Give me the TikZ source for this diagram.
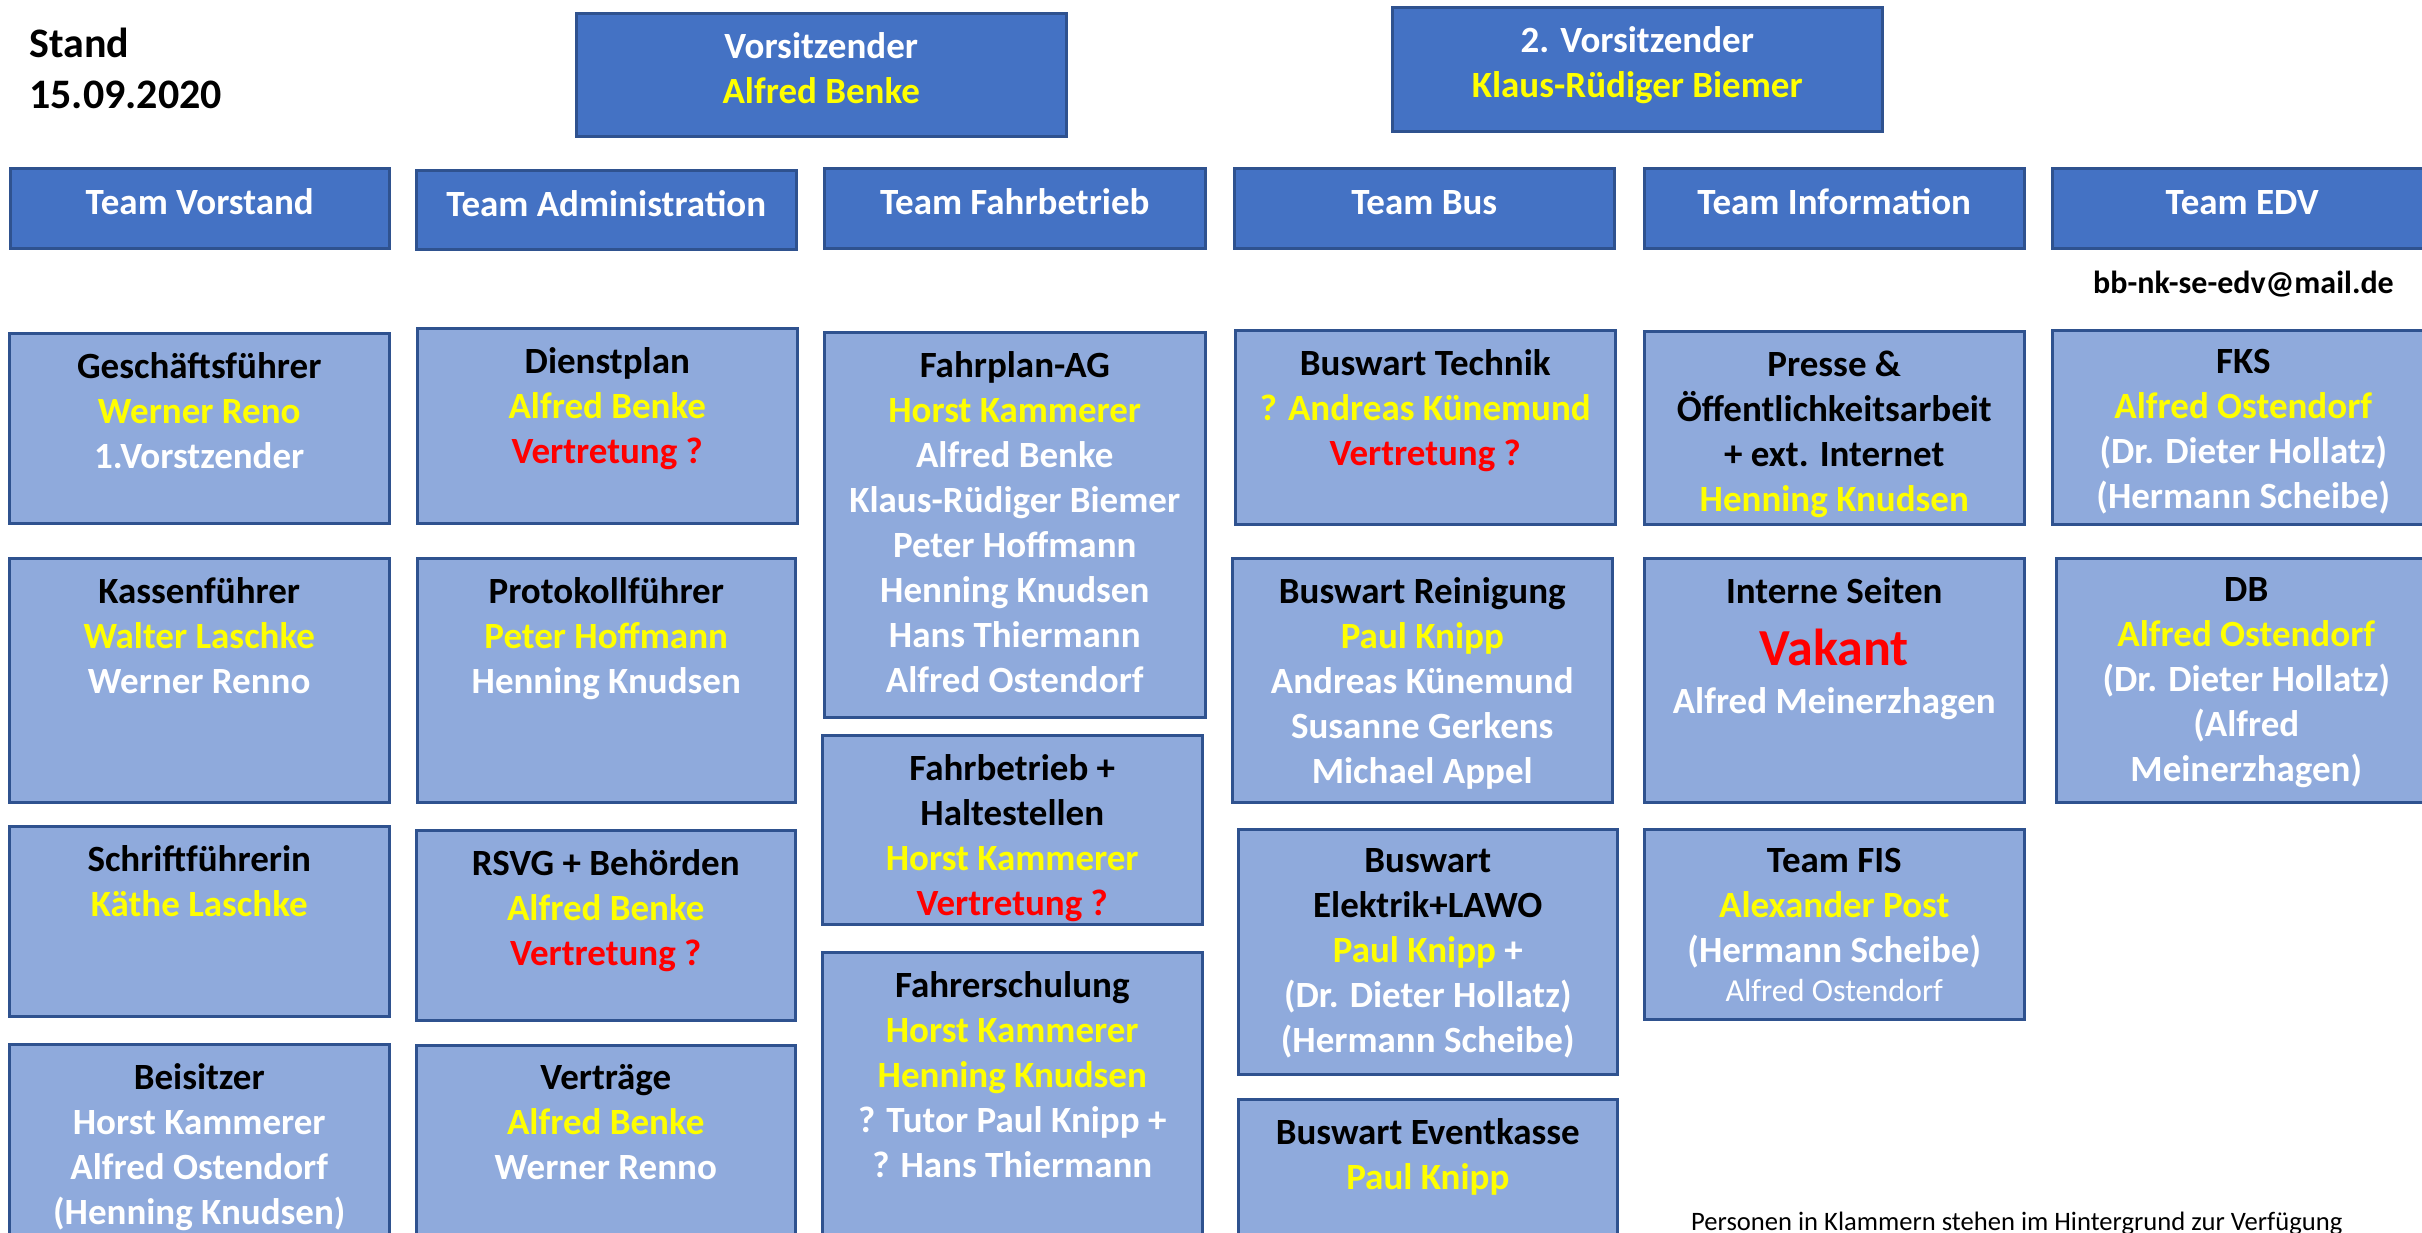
\documentclass[tikz,border=0pt]{standalone}
\usepackage{fontspec}
\setmainfont{Carlito}
\definecolor{darkfill}{HTML}{4472C4}
\definecolor{lightfill}{HTML}{8FAADC}
\definecolor{edge}{HTML}{2F528F}
\definecolor{yel}{HTML}{FFFF00}
\definecolor{rd}{HTML}{FF0000}
\newcommand\cY[1]{\textcolor{yel}{#1}}
\newcommand\cW[1]{\textcolor{white}{#1}}
\newcommand\cR[1]{\textcolor{rd}{#1}}
\tikzset{
  boxbase/.style={rectangle, draw=edge, line width=2.5pt, anchor=north west, inner sep=0pt},
  dbox/.style={boxbase, fill=darkfill},
  lbox/.style={boxbase, fill=lightfill},
  txt/.style={align=center, inner sep=0pt, anchor=north,
    font=\fontsize{37}{45}\selectfont\bfseries, execute at begin node=\strut},
}
\newcommand\boxtext[3][]{\node[txt,#1] (#2-t) at ([yshift=-20.5pt]#2.north) {#3};}
\newcommand\teamtext[2]{\node[txt,text=white] (#1-t) at ([yshift=-15.4pt]#1.north) {#2};}
\begin{document}
\begin{tikzpicture}[x=1pt,y=-1pt]
\useasboundingbox (0,0) rectangle (2422,1232);
\fill[white] (0,0) rectangle (2422,1232);
\clip (0,0) rectangle (2422,1232);

% title
\node[anchor=north west, inner sep=0pt, align=left,
  font=\fontsize{42}{51}\selectfont\bfseries, execute at begin node=\strut]
  (stand) at (29,28) {Stand\\15.09.2020};

% top boxes
\node[dbox, minimum width=490pt, minimum height=123pt] (vors) at (575,12) {};
\boxtext[text=white]{vors}{Vorsitzender\\\cY{Alfred Benke}}
\node[dbox, minimum width=490pt, minimum height=124pt] (vors2) at (1391,6) {};
\boxtext[text=white]{vors2}{2. Vorsitzender\\\cY{Klaus-Rüdiger Biemer}}

% team row
\node[dbox, minimum width=379pt, minimum height=80pt] (tvor) at (9,167) {};
\teamtext{tvor}{Team Vorstand}
\node[dbox, minimum width=380pt, minimum height=79pt] (tadm) at (415,169) {};
\teamtext{tadm}{Team Administration}
\node[dbox, minimum width=381pt, minimum height=80pt] (tfahr) at (823,167) {};
\teamtext{tfahr}{Team Fahrbetrieb}
\node[dbox, minimum width=380pt, minimum height=80pt] (tbus) at (1233,167) {};
\teamtext{tbus}{Team Bus}
\node[dbox, minimum width=380pt, minimum height=80pt] (tinfo) at (1643,167) {};
\teamtext{tinfo}{Team Information}
\node[dbox, minimum width=380pt, minimum height=80pt] (tedv) at (2051,167) {};
\teamtext{tedv}{Team EDV}

\node[anchor=base east, inner sep=0pt, font=\fontsize{32}{38}\selectfont\bfseries]
  (mail) at (2394,293) {bb-nk-se-edv@mail.de};

% column 1
\node[lbox, minimum width=380pt, minimum height=190pt] (gf) at (8,332) {};
\boxtext{gf}{Geschäftsführer\\\cY{Werner Reno}\\\cW{1.Vorstzender}}
\node[lbox, minimum width=380pt, minimum height=244pt] (kasse) at (8,557) {};
\boxtext{kasse}{Kassenführer\\\cY{Walter Laschke}\\\cW{Werner Renno}}
\node[lbox, minimum width=380pt, minimum height=190pt] (schrift) at (8,825) {};
\boxtext{schrift}{Schriftführerin\\\cY{Käthe Laschke}}
\node[lbox, minimum width=380pt, minimum height=200pt] (beisitz) at (8,1043) {};
\boxtext{beisitz}{Beisitzer\\\cW{Horst Kammerer}\\\cW{Alfred Ostendorf}\\\cW{(Henning Knudsen)}}

% column 2
\node[lbox, minimum width=380pt, minimum height=195pt] (dienst) at (416,327) {};
\boxtext{dienst}{Dienstplan\\\cY{Alfred Benke}\\\cR{Vertretung ?}}
\node[lbox, minimum width=378pt, minimum height=244pt] (proto) at (416,557) {};
\boxtext{proto}{Protokollführer\\\cY{Peter Hoffmann}\\\cW{Henning Knudsen}}
\node[lbox, minimum width=379pt, minimum height=190pt] (rsvg) at (415,829) {};
\boxtext{rsvg}{RSVG + Behörden\\\cY{Alfred Benke}\\\cR{Vertretung ?}}
\node[lbox, minimum width=379pt, minimum height=200pt] (vertr) at (415,1044) {};
\boxtext{vertr}{Verträge\\\cY{Alfred Benke}\\\cW{Werner Renno}}

% column 3
\node[lbox, minimum width=381pt, minimum height=385pt] (fplan) at (823,331) {};
\boxtext{fplan}{Fahrplan-AG\\\cY{Horst Kammerer}\\\cW{Alfred Benke}\\\cW{Klaus-Rüdiger Biemer}\\\cW{Peter Hoffmann}\\\cW{Henning Knudsen}\\\cW{Hans Thiermann}\\\cW{Alfred Ostendorf}}
\node[lbox, minimum width=380pt, minimum height=189pt] (fbetr) at (821,734) {};
\boxtext{fbetr}{Fahrbetrieb +\\Haltestellen\\\cY{Horst Kammerer}\\\cR{Vertretung ?}}
\node[lbox, minimum width=380pt, minimum height=300pt] (fschul) at (821,951) {};
\boxtext{fschul}{Fahrerschulung\\\cY{Horst Kammerer}\\\cY{Henning Knudsen}\\\cW{? Tutor Paul Knipp +}\\\cW{? Hans Thiermann}}

% column 4
\node[lbox, minimum width=380pt, minimum height=194pt] (btech) at (1234,329) {};
\boxtext{btech}{Buswart Technik\\\cY{? Andreas Künemund}\\\cR{Vertretung ?}}
\node[lbox, minimum width=380pt, minimum height=244pt] (brein) at (1231,557) {};
\boxtext{brein}{Buswart Reinigung\\\cY{Paul Knipp}\\\cW{Andreas Künemund}\\\cW{Susanne Gerkens}\\\cW{Michael Appel}}
\node[lbox, minimum width=379pt, minimum height=245pt] (belek) at (1237,828) {};
\boxtext{belek}{Buswart\\Elektrik+LAWO\\\cY{Paul Knipp}\ \cW{+}\\\cW{(Dr. Dieter Hollatz)}\\\cW{(Hermann Scheibe)}}
\node[lbox, minimum width=379pt, minimum height=160pt] (bevent) at (1237,1098) {};
\boxtext{bevent}{Buswart Eventkasse\\\cY{Paul Knipp}}

% column 5
\node[lbox, minimum width=380pt, minimum height=193pt] (presse) at (1643,330) {};
\boxtext{presse}{Presse \&\\Öffentlichkeitsarbeit\\+ ext. Internet\\\cY{Henning Knudsen}}
\node[lbox, minimum width=380pt, minimum height=244pt] (intern) at (1643,557) {};
\boxtext{intern}{Interne Seiten\\[16.8pt]\smash{\fontsize{52}{60}\selectfont\cR{Vakant}}\\[3.2pt]\cW{Alfred Meinerzhagen}}
\node[lbox, minimum width=380pt, minimum height=190pt] (fis) at (1643,828) {};
\boxtext{fis}{Team FIS\\\cY{Alexander Post}\\\cW{(Hermann Scheibe)}\\[-6.6pt]{\fontsize{32}{38}\selectfont\mdseries\cW{Alfred Ostendorf}}}

% column 6
\node[lbox, minimum width=382pt, minimum height=194pt] (fks) at (2051,329) {};
\boxtext{fks}{FKS\\\cY{Alfred Ostendorf}\\\cW{(Dr. Dieter Hollatz)}\\\cW{(Hermann Scheibe)}}
\node[lbox, minimum width=380pt, minimum height=244pt] (db) at (2055,557) {};
\boxtext{db}{DB\\\cY{Alfred Ostendorf}\\\cW{(Dr. Dieter Hollatz)}\\\cW{(Alfred}\\\cW{Meinerzhagen)}}

% footnote
\node[anchor=base west, inner sep=0pt, font=\fontsize{26.6}{32}\selectfont]
  (note) at (1691,1230) {Personen in Klammern stehen im Hintergrund zur Verfügung};
\end{tikzpicture}
\end{document}
